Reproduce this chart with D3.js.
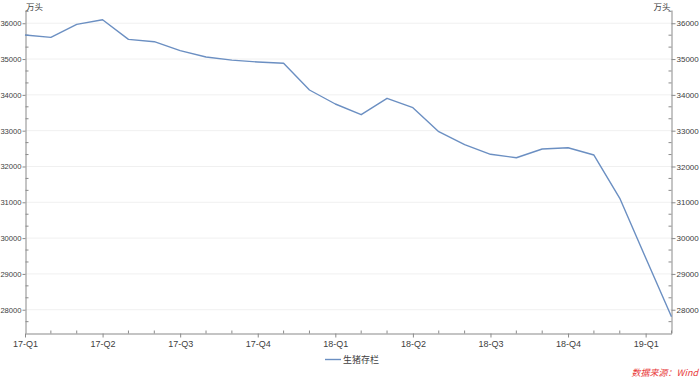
<!DOCTYPE html>
<html><head><meta charset="utf-8">
<script src="https://cdn.jsdelivr.net/npm/d3@7"></script>
<style>
body{margin:0;background:#fff;}
svg{display:block;font-family:"Noto Sans CJK SC","Noto Sans",sans-serif;}
</style></head>
<body>
<svg id="c" width="700" height="378"></svg>
<script>
const months = ["2017-01","2017-02","2017-03","2017-04","2017-05","2017-06","2017-07","2017-08","2017-09","2017-10","2017-11","2017-12",
"2018-01","2018-02","2018-03","2018-04","2018-05","2018-06","2018-07","2018-08","2018-09","2018-10","2018-11","2018-12",
"2019-01","2019-02"];
const hogInventory = [35672,35607,35970,36099,35551,35485,35234,35058,34970,34918,34881,34136,
33745,33446,33904,33642,32972,32610,32340,32245,32488,32524,32320,31112,29450,27806];
const quarterLabels = ["17-Q1","17-Q2","17-Q3","17-Q4","18-Q1","18-Q2","18-Q3","18-Q4","19-Q1"];
const yTicks = [28000,29000,30000,31000,32000,33000,34000,35000,36000];
const seriesName = "生猪存栏";
const unitLabel = "万头";
const sourceLabel = "数据来源：Wind";

const svg = d3.select("#c");
const L = 25, R = 671.5, T = 10, B = 333;
const x = d3.scaleLinear().domain([0, months.length-1]).range([L, R]);
const y = d3.scaleLinear().domain([27350, 36370]).range([B, T]);
const axisColor = "#8a8a8a", textColor = "#404040";

// gridlines
svg.append("g").selectAll("line").data(yTicks).join("line")
  .attr("x1", L).attr("x2", R).attr("y1", d=>y(d)).attr("y2", d=>y(d))
  .attr("stroke", "#f0f0f0").attr("stroke-width", 1);

// minor y ticks (thirds between major ticks)
const minorVals = [];
for (let v = 27000; v <= 36370; v += 1000) { [v+333.33, v+666.67].forEach(m=>{ if (m>=27350 && m<=36370) minorVals.push(m); }); }

function styleAxis(g, size){
  g.selectAll("path,line").attr("stroke", axisColor);
  g.selectAll("text").attr("fill", textColor).style("font-size", size);
}

// left axis
const gl = svg.append("g").attr("transform", `translate(${L+0.5},0)`)
  .call(d3.axisLeft(y).tickValues(yTicks).tickSize(3).tickSizeOuter(0).tickPadding(1).tickFormat(d3.format("d")));
styleAxis(gl, "7.6px");
gl.selectAll("text").style("font-family","'Liberation Sans',Arial,sans-serif");
gl.append("g").selectAll("line").data(minorVals).join("line")
  .attr("x1",0).attr("x2",3).attr("y1",d=>y(d)).attr("y2",d=>y(d)).attr("stroke",axisColor);

// right axis
const gr = svg.append("g").attr("transform", `translate(${R},0)`)
  .call(d3.axisRight(y).tickValues(yTicks).tickSize(4).tickSizeOuter(0).tickPadding(1).tickFormat(d3.format("d")));
styleAxis(gr, "8px");
gr.selectAll("text").style("font-family","'Liberation Sans',Arial,sans-serif");
gr.append("g").selectAll("line").data(minorVals).join("line")
  .attr("x1",0).attr("x2",-3).attr("y1",d=>y(d)).attr("y2",d=>y(d)).attr("stroke",axisColor);

// bottom axis
const qIdx = quarterLabels.map((q,i)=>i*3);
const gb = svg.append("g").attr("transform", `translate(0,${B+0.5})`)
  .call(d3.axisBottom(x).tickValues(qIdx).tickSize(4).tickSizeOuter(0).tickPadding(3).tickFormat((d,i)=>quarterLabels[i]));
styleAxis(gb, "9px");
gb.select("path.domain").attr("stroke-width",1.2);
gb.append("g").selectAll("line").data(d3.range(months.length).filter(i=>i%3!==0)).join("line")
  .attr("x1",d=>x(d)).attr("x2",d=>x(d)).attr("y1",0).attr("y2",-3).attr("stroke",axisColor);

// unit labels
svg.append("text").attr("x", L+1).attr("y", 9.5).text(unitLabel)
  .attr("fill", textColor).style("font-size","8.5px");
svg.append("text").attr("x", R-1).attr("y", 9.5).attr("text-anchor","end").text(unitLabel)
  .attr("fill", textColor).style("font-size","8.5px");

// line
const line = d3.line().x((d,i)=>x(i)).y(d=>y(d));
svg.append("path").datum(hogInventory).attr("d", line)
  .attr("fill","none").attr("stroke","#6b8fc2").attr("stroke-width",1.4).attr("stroke-linejoin","round");

// legend
svg.append("line").attr("x1",325).attr("x2",341).attr("y1",359.5).attr("y2",359.5)
  .attr("stroke","#6b8fc2").attr("stroke-width",1.4);
svg.append("text").attr("x",343).attr("y",362.5).text(seriesName)
  .attr("fill", textColor).style("font-size","9px");

// source
svg.append("text").attr("x",698).attr("y",376).attr("text-anchor","end").text(sourceLabel)
  .attr("fill","#e8393a").style("font-size","9px").style("font-style","italic");
</script>
</body></html>
